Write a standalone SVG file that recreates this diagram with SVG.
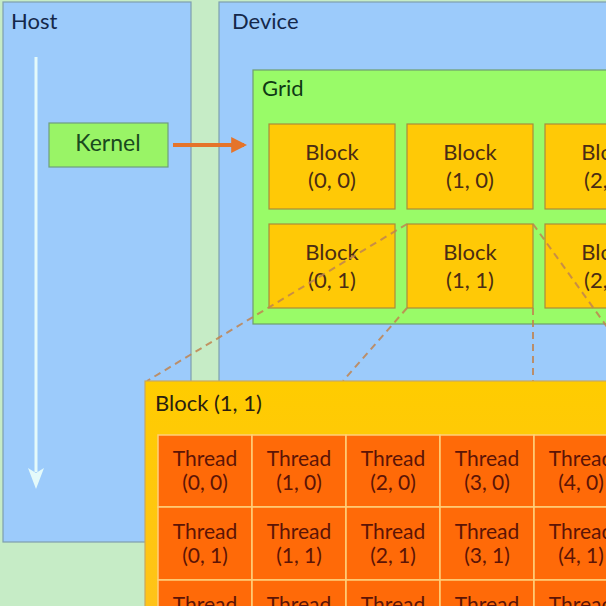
<svg xmlns="http://www.w3.org/2000/svg" width="606" height="606" viewBox="0 0 606 606">
<defs>
<style>
text{font-family:Lato,"Open Sans","Liberation Sans",sans-serif;font-size:22px}
.panel{fill:#9ccbfb;stroke:#7f9fae;stroke-width:1.2}
.lbl{fill:#14284a}
.grid{fill:#99fb68;stroke:#6e9e6e;stroke-width:1.2}
.blk rect{fill:#ffc906;stroke:#a88d3c;stroke-width:1.2}
.blk text{fill:#4a2c14;text-anchor:middle}
.thr rect{fill:#ff6a08;stroke:#ffd07a;stroke-width:1.5}
.thr text{fill:#5c1406;text-anchor:middle;font-size:21px}
.dash{stroke:#c08450;stroke-width:2;stroke-dasharray:7 5;fill:none;opacity:0.85}
</style>
<marker id="ah" markerWidth="4" markerHeight="4" refX="3.2" refY="2" orient="auto" markerUnits="strokeWidth"><path d="M0,0 L4,2 L0,4 z" fill="#e5742a"/></marker>
<linearGradient id="bg2" x1="0" y1="0" x2="0" y2="1"><stop offset="0" stop-color="#ffcc00"/><stop offset="1" stop-color="#ffc21a"/></linearGradient>
</defs>
<rect width="606" height="606" fill="#c6ecc6"/>
<g id="host">
<rect class="panel" x="3" y="2" width="188" height="540"/>
<text class="lbl" x="11" y="29">Host</text>
</g>
<g id="device">
<rect class="panel" x="219" y="2" width="392" height="560"/>
<text class="lbl" x="232" y="29">Device</text>
</g>
<g id="grid">
<rect class="grid" x="253" y="70" width="360" height="254"/>
<text x="262" y="96" fill="#0f3a14">Grid</text>
</g>
<g id="block00" class="blk"><rect x="269" y="124" width="126" height="85"/><text x="332" y="160">Block</text><text x="332" y="188">(0, 0)</text></g>
<g id="block10" class="blk"><rect x="407" y="124" width="126" height="85"/><text x="470" y="160">Block</text><text x="470" y="188">(1, 0)</text></g>
<g id="block20" class="blk"><rect x="545" y="124" width="126" height="85"/><text x="608" y="160">Block</text><text x="608" y="188">(2, 0)</text></g>
<g id="block01" class="blk"><rect x="269" y="224" width="126" height="84"/><text x="332" y="260">Block</text><text x="332" y="288">(0, 1)</text></g>
<g id="block11" class="blk"><rect x="407" y="224" width="126" height="84"/><text x="470" y="260">Block</text><text x="470" y="288">(1, 1)</text></g>
<g id="block21" class="blk"><rect x="545" y="224" width="126" height="84"/><text x="608" y="260">Block</text><text x="608" y="288">(2, 1)</text></g>
<g id="kernel">
<rect x="49" y="123" width="119" height="44" fill="#99f466" stroke="#6e9e7e" stroke-width="1.2"/>
<text x="108" y="151" text-anchor="middle" fill="#1a4a1e" style="font-size:23px">Kernel</text>
</g>
<g id="connectors">
<line x1="36" y1="57" x2="36" y2="472" stroke="#e4fafa" stroke-width="3"/>
<path d="M28,468 L36,489 L44,468 L36,473 z" fill="#e4fafa"/>
<line x1="173" y1="145" x2="244" y2="145" stroke="#e5742a" stroke-width="4" marker-end="url(#ah)"/>
<line class="dash" x1="407" y1="224" x2="147" y2="381"/>
<line class="dash" x1="407" y1="308" x2="343" y2="381"/>
<line class="dash" x1="533" y1="224" x2="646" y2="381"/>
<line class="dash" x1="533" y1="308" x2="533" y2="381"/>
</g>
<g id="blockPanel">
<rect x="145" y="381" width="470" height="240" fill="url(#bg2)" stroke="#c8a860" stroke-width="1.2"/>
<text x="155" y="411" fill="#2a1e10">Block (1, 1)</text>
</g>
<g id="threads" class="thr">
<g id="t00"><rect x="158" y="435" width="94" height="72"/><text x="205" y="466">Thread</text><text x="205" y="490">(0, 0)</text></g>
<g id="t10"><rect x="252" y="435" width="94" height="72"/><text x="299" y="466">Thread</text><text x="299" y="490">(1, 0)</text></g>
<g id="t20"><rect x="346" y="435" width="94" height="72"/><text x="393" y="466">Thread</text><text x="393" y="490">(2, 0)</text></g>
<g id="t30"><rect x="440" y="435" width="94" height="72"/><text x="487" y="466">Thread</text><text x="487" y="490">(3, 0)</text></g>
<g id="t40"><rect x="534" y="435" width="94" height="72"/><text x="581" y="466">Thread</text><text x="581" y="490">(4, 0)</text></g>
<g id="t01"><rect x="158" y="507" width="94" height="73"/><text x="205" y="539">Thread</text><text x="205" y="563">(0, 1)</text></g>
<g id="t11"><rect x="252" y="507" width="94" height="73"/><text x="299" y="539">Thread</text><text x="299" y="563">(1, 1)</text></g>
<g id="t21"><rect x="346" y="507" width="94" height="73"/><text x="393" y="539">Thread</text><text x="393" y="563">(2, 1)</text></g>
<g id="t31"><rect x="440" y="507" width="94" height="73"/><text x="487" y="539">Thread</text><text x="487" y="563">(3, 1)</text></g>
<g id="t41"><rect x="534" y="507" width="94" height="73"/><text x="581" y="539">Thread</text><text x="581" y="563">(4, 1)</text></g>
<g id="t02"><rect x="158" y="580" width="94" height="73"/><text x="205" y="612">Thread</text></g>
<g id="t12"><rect x="252" y="580" width="94" height="73"/><text x="299" y="612">Thread</text></g>
<g id="t22"><rect x="346" y="580" width="94" height="73"/><text x="393" y="612">Thread</text></g>
<g id="t32"><rect x="440" y="580" width="94" height="73"/><text x="487" y="612">Thread</text></g>
<g id="t42"><rect x="534" y="580" width="94" height="73"/><text x="581" y="612">Thread</text></g>
</g>
</svg>
